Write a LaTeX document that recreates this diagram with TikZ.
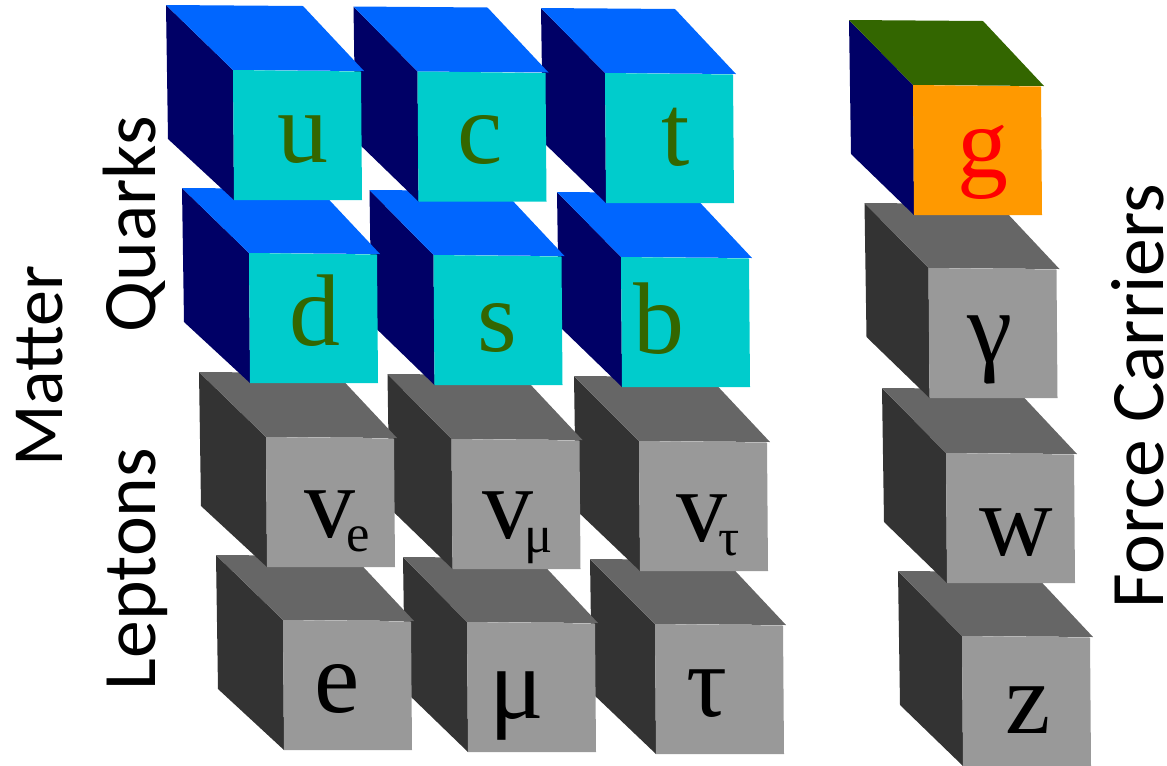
\documentclass[tikz,border=0pt]{standalone}
\usepackage{fontspec}
\setmainfont{Liberation Serif}
\newfontfamily\labelfont{Carlito}
\definecolor{quarktop}{HTML}{0066FF}
\definecolor{darkside}{HTML}{000066}
\definecolor{quarkfront}{HTML}{00CCCC}
\definecolor{quarktext}{HTML}{336600}
\definecolor{leptontop}{HTML}{666666}
\definecolor{leptonside}{HTML}{333333}
\definecolor{leptonfront}{HTML}{999999}
\definecolor{gluonfront}{HTML}{FF9900}
\newcommand{\Flavor}[2]{#1\kern-0.18cm{\fontsize{30}{30}\selectfont\raisebox{-0.29cm}{#2}}}
\tikzset{
    cube top/.style={fill=leptontop},
    cube side/.style={fill=leptonside},
    cube front/.style={fill=leptonfront},
    cube/.pic = {
    \fill[cube side] (-#1,-65) -- (0,0) -- (1,130) -- (-#1+2,69) -- cycle;
    \fill[cube top] (-#1,-65) -- (70,-64) -- (131,1) -- (0,0) -- cycle;
    \fill[cube front] (0,0) -- (128,1.5) -- (129,130) -- (1,130) -- cycle;
    },
    quark/.style={
      cube top/.style={fill=quarktop},
      cube side/.style={fill=darkside},
      cube front/.style={fill=quarkfront},
    },
    gluon/.style={
      cube top/.style={fill=quarktext},
      cube side/.style={fill=darkside},
      cube front/.style={fill=gluonfront},
    },
    particle/.style={anchor=base, inner sep=0pt, font=\fontsize{58}{58}\selectfont},
    family/.style={anchor=base, rotate=90, inner sep=0pt, font=\labelfont\fontsize{43}{43}\selectfont},
}

\begin{document}
\begin{tikzpicture}[x=0.02cm, y=-0.02cm]
    \useasboundingbox (0,0) rectangle (1167,765);

    % cubes, back to front: bottom rows first, right column first
    \path (655,624) pic {cube=65};
    \path (467,622) pic {cube=64};
    \path (283,620) pic {cube=67};
    \path (639,441) pic {cube=65};
    \path (451.5,439) pic {cube=64};
    \path (266,437) pic {cube=67};

    \path (621,257) pic[quark] {cube=64};
    \path (433.5,255) pic[quark] {cube=64};
    \path (249,253) pic[quark] {cube=67};
    \path (605,73) pic[quark] {cube=64};
    \path (417.5,71.5) pic[quark] {cube=64};
    \path (233,70) pic[quark] {cube=67};

    \path (962,636) pic {cube=64};
    \path (946,453) pic {cube=64};
    \path (928.5,268) pic {cube=64};
    \path (913,85) pic[gluon] {cube=64};

    % letters on the front faces
    \node[particle, quarktext] (up) at (303,162) {u};
    \node[particle, quarktext] (charm) at (480,163) {c};
    \node[particle, quarktext] (top) at (676,165) {t};
    \node[particle, quarktext] (down) at (315,345) {d};
    \node[particle, quarktext] (strange) at (497,351) {s};
    \node[particle, quarktext] (bottom) at (659,353) {b};

    \node[particle] (nue) at (337.5,537) {\Flavor{v}{e}};
    \node[particle] (numu) at (518,538) {\Flavor{v}{μ}};
    \node[particle] (nutau) at (708,541) {\Flavor{v}{τ}};
    \node[particle] (electron) at (337,712) {e};
    \node[particle] (muon) at (517,718) {μ};
    \node[particle] (tau) at (707,716) {τ};

    \node[particle, red] (g) at (983,177) {g};
    \node[particle] (gamma) at (990,362) {γ};
    \node[particle] (w) at (1016,555) {w};
    \node[particle] (z) at (1028,733) {z};

    % group labels
    \node[family, font=\labelfont\fontsize{41}{41}\selectfont] (matter) at (62,366) {Matter};
    \node[family] (quarks) at (155,224) {Quarks};
    \node[family] (leptons) at (155,569) {Leptons};
    \node[family] (carriers) at (1163,396) {Force Carriers};
\end{tikzpicture}
\end{document}
